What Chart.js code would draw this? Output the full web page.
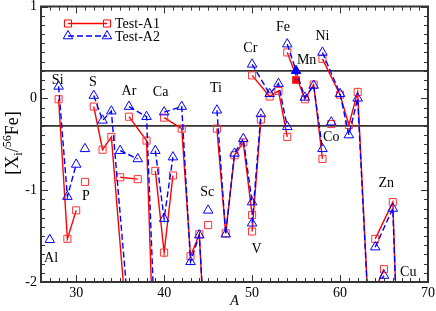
<!DOCTYPE html>
<html>
<head>
<meta charset="utf-8">
<script src="https://cdn.jsdelivr.net/npm/chart.js@4.4.1/dist/chart.umd.min.js"></script>
<style>
    html, body { margin: 0; padding: 0; background: #fff; }
</style>
</head>
<body>
<canvas id="chart" width="436" height="311"></canvas>
<script>
// isotopes, one entry each; a new element starts a new line segment
const isoElement = ['Al', 'Si', 'Si', 'Si', 'P', 'S', 'S', 'S', 'S', 'Cl', 'Cl', 'Ar', 'Ar', 'Ar',
    'K', 'K', 'K', 'Ca', 'Ca', 'Ca', 'Ca', 'Ca', 'Sc', 'Ti', 'Ti', 'Ti', 'Ti', 'Ti', 'V', 'V',
    'Cr', 'Cr', 'Cr', 'Cr', 'Mn', 'Fe', 'Fe', 'Fe', 'Fe', 'Co', 'Ni', 'Ni', 'Ni', 'Ni', 'Ni',
    'Cu', 'Cu', 'Zn', 'Zn', 'Zn'];
const isoMass = [27, 28, 29, 30, 31, 32, 33, 34, 36, 35, 37, 36, 38, 40,
    39, 40, 41, 40, 42, 43, 44, 46, 45, 46, 47, 48, 49, 50, 50, 51,
    50, 52, 53, 54, 55, 54, 56, 57, 58, 59, 58, 60, 61, 62, 64,
    63, 65, 64, 66, 67];
const testA1 = [-2.3, -0.01, -1.53, -1.22, -0.91, -0.09, -0.56, -0.42, -2.76, -0.86, -0.88, -0.20, -0.46, -6.2,
    -0.79, -1.68, -0.84, -0.21, -0.33, -1.72, -1.48, -5.2, -1.38, -0.33, -1.47, -0.62, -0.48, -1.27, -1.45, -0.23,
    0.25, 0.02, 0.08, -0.42, 0.20, 0.50, -0.01, 0.15, -0.66, -0.28, 0.43, 0.04, -0.29, 0.07, -3.8,
    -2.3, -1.86, -1.53, -1.13, -4.0];
const testA2 = [-1.54, 0.13, -1.07, -0.72, -0.55, 0.03, -0.24, -0.14, -2.38, -0.57, -0.66, -0.09, -0.20, -5.1,
    -0.57, -1.31, -0.64, -0.15, -0.09, -1.78, -1.49, -5.0, -1.22, -0.13, -1.48, -0.60, -0.44, -1.13, -1.36, -0.17,
    0.37, 0.05, 0.16, -0.31, 0.30, 0.59, 0.01, 0.14, -0.55, -0.26, 0.50, 0.05, -0.40, 0.00, -3.8,
    -2.2, -1.93, -1.62, -1.20, -4.0];
const filledElement = 'Mn';

const xTicks = [30, 40, 50, 60, 70];
const yTicks = [-2, -1, 0, 1];
const refLines = [0.3, -0.3];

// element names, placed in data units
const labelText = ['Al', 'Si', 'P', 'S', 'Ar', 'Ca', 'Sc', 'Ti', 'V', 'Cr', 'Fe', 'Mn', 'Co', 'Ni', 'Zn', 'Cu'];
const labelA = [27.15, 27.9, 31.1, 31.9, 36.0, 39.6, 44.9, 45.9, 50.5, 49.8, 53.5, 56.2, 59.0, 58.0, 65.25, 67.75];
const labelY = [-1.74, 0.20, -1.07, 0.17, 0.08, 0.06, -1.02, 0.11, -1.64, 0.54, 0.77, 0.41, -0.43, 0.68, -0.93, -1.89];

const SERIF = "'Liberation Serif', 'Times New Roman', serif";

function buildSeries(values) {
    let pts = [];
    isoMass.forEach((a, i) => {
        if (i > 0 && isoElement[i] !== isoElement[i - 1]) pts.push({ x: a, y: null });
        pts.push({ x: a, y: values[i], el: isoElement[i] });
    });
    return pts;
}

function fillFor(color) {
    return ctx => (ctx.raw && ctx.raw.el === filledElement) ? color : 'rgba(0,0,0,0)';
}

const decorPlugin = {
    id: 'decor',
    beforeDatasetsDraw(chart) {
        const { ctx, chartArea: ca, scales: { y } } = chart;
        ctx.save();
        ctx.strokeStyle = '#333';
        ctx.lineWidth = 1.8;
        refLines.forEach(v => {
            let py = y.getPixelForValue(v);
            ctx.beginPath();
            ctx.moveTo(ca.left, py);
            ctx.lineTo(ca.right, py);
            ctx.stroke();
        });
        ctx.restore();
    },
    afterDraw(chart) {
        const { ctx, chartArea: ca, scales: { x, y } } = chart;
        ctx.save();

        // frame + inward ticks
        ctx.strokeStyle = '#333';
        ctx.lineWidth = 2;
        ctx.strokeRect(ca.left, ca.top, ca.right - ca.left, ca.bottom - ca.top);
        ctx.lineWidth = 1;
        ctx.beginPath();
        for (let v = Math.ceil(x.min); v <= x.max; v++) {
            let px = Math.round(x.getPixelForValue(v)) + 0.5;
            let len = v % 10 === 0 ? 7 : 4;
            ctx.moveTo(px, ca.bottom); ctx.lineTo(px, ca.bottom - len);
            ctx.moveTo(px, ca.top); ctx.lineTo(px, ca.top + len);
        }
        for (let k = Math.round(y.min * 10); k <= Math.round(y.max * 10); k++) {
            let py = Math.round(y.getPixelForValue(k / 10)) + 0.5;
            let len = k % 10 === 0 ? 7 : 4;
            ctx.moveTo(ca.left, py); ctx.lineTo(ca.left + len, py);
            ctx.moveTo(ca.right, py); ctx.lineTo(ca.right - len, py);
        }
        ctx.stroke();

        // element labels
        ctx.fillStyle = '#000';
        ctx.font = '14px ' + SERIF;
        ctx.textAlign = 'center';
        ctx.textBaseline = 'middle';
        labelText.forEach((t, i) => {
            ctx.fillText(t, x.getPixelForValue(labelA[i]), y.getPixelForValue(labelY[i]));
        });

        // legend: line with a marker at both ends
        chart.data.datasets.forEach((ds, i) => {
            let ly = ca.top + 17 + i * 12.5;
            let x1 = ca.left + 27, x2 = ca.left + 66;
            ctx.strokeStyle = ds.borderColor;
            ctx.lineWidth = ds.borderWidth;
            ctx.setLineDash(ds.borderDash || []);
            ctx.beginPath();
            ctx.moveTo(x1, ly);
            ctx.lineTo(x2, ly);
            ctx.stroke();
            ctx.setLineDash([]);
            ctx.fillStyle = 'rgba(0,0,0,0)';
            ctx.lineWidth = ds.pointBorderWidth;
            [x1, x2].forEach(px => {
                Chart.helpers.drawPoint(ctx, { pointStyle: ds.pointStyle, radius: ds.pointRadius, borderWidth: ds.pointBorderWidth, rotation: 0 }, px, ly);
            });
            ctx.fillStyle = '#000';
            ctx.font = '14px ' + SERIF;
            ctx.textAlign = 'left';
            ctx.textBaseline = 'middle';
            ctx.fillText(ds.label, ca.left + 74, ly + 1);
        });

        // axis titles
        ctx.font = 'italic 14px ' + SERIF;
        ctx.textAlign = 'center';
        ctx.textBaseline = 'middle';
        ctx.fillText('A', (ca.left + ca.right) / 2, 301);

        let parts = [
            { t: '[X', size: 18, dy: 0 },
            { t: 'i', size: 12, dy: 4 },
            { t: '/', size: 18, dy: 0 },
            { t: '56', size: 12, dy: -7 },
            { t: 'Fe]', size: 18, dy: 0 }
        ];
        let total = 0;
        parts.forEach(p => { ctx.font = p.size + 'px ' + SERIF; p.w = ctx.measureText(p.t).width; total += p.w; });
        ctx.translate(13, 143);
        ctx.rotate(-Math.PI / 2);
        ctx.textAlign = 'left';
        ctx.textBaseline = 'alphabetic';
        let cx = -total / 2;
        parts.forEach(p => {
            ctx.font = p.size + 'px ' + SERIF;
            ctx.fillText(p.t, cx, 5 + p.dy);
            cx += p.w;
        });
        ctx.restore();
    }
};

const ctx = document.getElementById('chart').getContext('2d');
const chart = new Chart(ctx, {
    type: 'scatter',
    data: {
        datasets: [{
            label: 'Test-A1',
            data: buildSeries(testA1),
            showLine: true,
            spanGaps: false,
            borderColor: '#ff0000',
            borderWidth: 1.4,
            pointStyle: 'rect',
            pointRadius: 5,
            pointBorderWidth: 1,
            pointBorderColor: '#ff3333',
            pointBackgroundColor: fillFor('#ff0000'),
            order: 1
        }, {
            label: 'Test-A2',
            data: buildSeries(testA2),
            showLine: true,
            spanGaps: false,
            borderColor: '#0000ff',
            borderWidth: 1.4,
            borderDash: [6, 3],
            pointStyle: 'triangle',
            pointRadius: 5.5,
            pointBorderWidth: 1,
            pointBorderColor: '#0000ff',
            pointBackgroundColor: fillFor('#0000ff'),
            order: 0
        }]
    },
    options: {
        responsive: false,
        animation: false,
        events: [],
        layout: { padding: { top: 6, right: 8, left: 0, bottom: 0 } },
        plugins: { legend: { display: false }, tooltip: { enabled: false } },
        scales: {
            x: {
                type: 'linear',
                min: 26,
                max: 70,
                grid: { display: false, drawTicks: false },
                border: { display: false },
                afterBuildTicks: s => { s.ticks = xTicks.map(v => ({ value: v })); },
                afterFit: s => { s.height = 29; s.paddingLeft = 0; s.paddingRight = 0; },
                ticks: { color: '#000', padding: 3, maxRotation: 0, font: { family: SERIF, size: 14 } }
            },
            y: {
                type: 'linear',
                min: -2,
                max: 1,
                grid: { display: false, drawTicks: false },
                border: { display: false },
                afterBuildTicks: s => { s.ticks = yTicks.map(v => ({ value: v })); },
                afterFit: s => { s.width = 41; s.paddingTop = 0; s.paddingBottom = 0; },
                ticks: { color: '#000', padding: 4, font: { family: SERIF, size: 14 } }
            }
        }
    },
    plugins: [decorPlugin]
});
</script>
</body>
</html>
